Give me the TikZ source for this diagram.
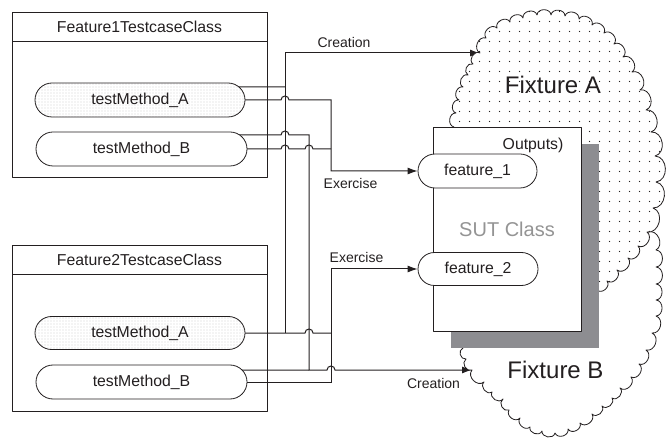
\documentclass[tikz,border=0pt]{standalone}
\usepackage{fontspec}
\setmainfont{Liberation Sans}
\usetikzlibrary{shapes.misc,arrows.meta,patterns.meta,shadows,backgrounds}
\definecolor{shadowgray}{RGB}{141,141,145}
\definecolor{inkgray}{RGB}{35,31,32}
\newcommand{\hop}[2]{-- (#1-4,#2) arc[start angle=180,end angle=360,radius=4]}
\begin{document}
\begin{tikzpicture}[x=1bp,y=-1bp,>={Latex[length=10bp,width=7bp]},line join=round,
  every node/.style={text=inkgray},
  txt/.style={font=\fontsize{15.8bp}{18bp}\selectfont},
  lbl/.style={font=\fontsize{14bp}{16bp}\selectfont},
  classbox/.style={draw=inkgray,line width=0.8bp,minimum width=255bp},
  method/.style={draw=inkgray,line width=0.8bp,rounded rectangle,fill=white,minimum height=34bp,inner sep=0pt,txt},
  shaded method/.style={method,preaction={fill=white},pattern={Dots[distance=3bp,radius=0.45bp]},pattern color=black!50},
  fixture/.style={draw=inkgray,line width=0.8bp,fill=white},
  puff/.style={bend left=85,looseness=1.3},
  wire/.style={draw=inkgray,line width=1bp},
]
\useasboundingbox (0,0) rectangle (667,441);
%% fixtures
\draw[fixture] (648,232) \foreach \x/\y in {656/250,656/267,656/284,656/300,656/316,652/333,646/350,639/364,631/377,620/388,612/398,602/406,592/414,580/423,568/429,555/433,542/431,530/427,520/418,509/410,503/399,492/392,484/382,472/370,466/359,463/348} { to[puff] (\x,\y) }
  -- (455,330) -- (450,290) -- (480,255) -- (530,245) -- (580,240) -- (620,228) -- (640,222) -- cycle;
\draw[fixture,pattern={Dots[distance=10bp,radius=0.7bp]},pattern color=inkgray,preaction={fill=white}]
  (454,127) \foreach \x/\y in {456/113,459/100,463/87,468/75,473/64,480/53,486/38,497/28,510/22,523/18,537/15,551/15,565/16,579/19,592/25,604/33,614/44,623/57,632/72,640/90,646/110,651/132,655/156,656/182,653/208,647/232,638/246,628/258,617/270,607/281,597/290} { to[puff] (\x,\y) }
  -- (570,302) -- (530,305) -- (490,305) -- (455,300) -- (450,250) -- (450,180) -- cycle;
\node (fixA) at (553,85) [font=\fontsize{24bp}{28bp}\selectfont] {Fixture A};
\node (fixB) at (555.5,370) [font=\fontsize{24bp}{28bp}\selectfont] {Fixture B};
\coordinate (fixAin) at (480,53);
\coordinate (fixBin) at (472,370);
%% system under test
\node (sut) at (507,229) [draw=inkgray,line width=0.8bp,fill=white,minimum width=148bp,minimum height=204bp,
  drop shadow={shadow xshift=18bp,shadow yshift=-17bp,fill=shadowgray,opacity=1},
  text=black!42,font=\fontsize{20bp}{24bp}\selectfont] {SUT Class};
\node (outp) at (533,145) [txt] {Outputs)};
\node (feat1) at (477.5,171) [method,minimum width=119bp] {feature\_1};
\node (feat2) at (478,269) [method,minimum width=120bp,minimum height=33bp] {feature\_2};
%% testcase classes
\node (cls1) at (139.5,94.5) [classbox,minimum height=165bp] {};
\node (cls1t) at (139.5,26.5) [classbox,minimum height=29bp,txt] {Feature1TestcaseClass};
\node (m1a) at (140,100) [shaded method,minimum width=210bp] {testMethod\_A};
\node (m1b) at (141.5,149) [method,minimum width=211bp] {testMethod\_B};
\node (cls2) at (139.5,328) [classbox,minimum height=166bp] {};
\node (cls2t) at (139.5,259.5) [classbox,minimum height=29bp,txt] {Feature2TestcaseClass};
\node (m2a) at (140,333) [shaded method,minimum width=210bp,minimum height=33bp] {testMethod\_A};
\node (m2b) at (141.5,382) [method,minimum width=211bp] {testMethod\_B};
%% wiring
\coordinate (cA) at (285,53);
\coordinate (jA1) at (285,87);
\coordinate (jA2) at (285,333);
\coordinate (cE1) at (331,100);
\coordinate (jE1) at (331,149);
\coordinate (cB) at (309,135);
\coordinate (jB) at (309,370);
\coordinate (cE2) at (331,382);
\coordinate (jE2) at (331,333);
\node (crA) at (344,43) [lbl] {Creation};
\node (exA) at (350.5,183) [lbl] {Exercise};
\node (exB) at (356.5,257) [lbl] {Exercise};
\node (crB) at (433.5,383.5) [lbl] {Creation};
\begin{scope}[on background layer]
\draw[wire] ([yshift=13bp]m1a.center) -- (jA1);
\draw[wire,->] (jA2) -- (cA) -- (fixAin);
\draw[wire,->] (m1a.center) \hop{285}{100} -- (cE1) |- (feat1.west);
\draw[wire] (m1b.center) \hop{285}{149} \hop{309}{149} -- (jE1);
\draw[wire,->] ([yshift=14bp]m1b.center) \hop{285}{135} -- (cB) -- (jB) \hop{331}{370} -- (fixBin);
\draw[wire] ([yshift=12bp]m2b.center) -- (jB);
\draw[wire,->] (m2b.center) -- (cE2) |- (feat2.west);
\draw[wire] (m2a.center) -- (jA2) \hop{309}{333} -- (jE2);
\end{scope}
%
\end{tikzpicture}
\end{document}
